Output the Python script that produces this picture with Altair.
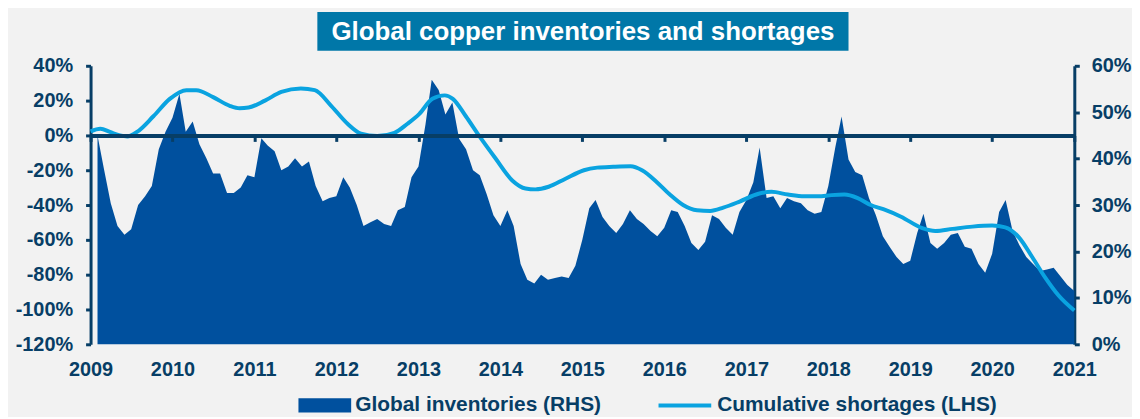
import altair as alt
import pandas as pd

AREA_NAME = "Global inventories (RHS)"
LINE_NAME = "Cumulative shortages (LHS)"
TITLE = "Global copper inventories and shortages"

NAVY = "#073E66"
AREA_COLOR = "#00509E"
LINE_COLOR = "#0AA3E0"
TEAL = "#0077A8"
BG = "#F2F2F2"
FONT = "Liberation Sans"

# Monthly global inventories (RHS, %), Feb 2009 .. Jan 2021
inventory_months = pd.date_range("2009-02-01", periods=144, freq="MS").strftime("%Y-%m-%d").tolist()
inventory_rhs = [
    45.0, 37.9, 30.4, 25.5, 23.6, 24.8, 30.0, 31.9, 34.1, 42.0, 45.8, 48.8,
    54.0, 45.8, 48.0, 43.1, 40.1, 36.8, 36.8, 32.6, 32.6, 33.8, 36.4, 36.0,
    44.4, 42.8, 41.6, 37.5, 38.3, 40.1, 38.3, 39.4, 34.1, 30.8, 31.5, 31.9,
    36.0, 33.8, 30.0, 25.5, 26.3, 27.0, 25.9, 25.5, 28.9, 29.6, 36.0, 38.3,
    47.3, 57.0, 54.8, 49.5, 52.1, 44.3, 42.0, 37.5, 36.4, 32.3, 27.8, 25.5,
    28.9, 25.5, 17.3, 13.9, 13.1, 15.0, 13.9, 14.3, 14.6, 14.3, 16.9, 22.5,
    29.3, 31.1, 27.4, 25.5, 24.0, 25.9, 28.9, 27.0, 25.9, 24.4, 23.3, 25.1,
    28.9, 28.5, 25.5, 21.8, 20.3, 22.1, 27.8, 27.0, 25.1, 23.6, 28.5, 31.1,
    34.9, 42.4, 31.5, 31.9, 29.3, 31.5, 30.8, 30.4, 28.9, 28.1, 28.5, 34.1,
    42.4, 49.1, 39.8, 37.1, 36.4, 31.5, 27.8, 23.3, 21.0, 18.8, 17.3, 18.0,
    24.0, 28.1, 21.8, 20.6, 21.8, 23.6, 24.0, 21.0, 20.6, 17.3, 15.4, 19.5,
    28.5, 31.1, 24.4, 21.4, 18.8, 17.3, 15.8, 16.1, 16.5, 14.6, 12.8, 11.5,
]

# Cumulative shortages (LHS, %)
shortage_dates = [
    "2009-01-01", "2009-02-14", "2009-03-28", "2009-05-12", "2009-06-14", "2009-07-27",
    "2009-10-08", "2009-12-20", "2010-03-04", "2010-04-17", "2010-07-01", "2010-09-13",
    "2010-10-27", "2010-12-06", "2011-02-17", "2011-05-01", "2011-07-27", "2011-09-27",
    "2011-12-09", "2012-02-20", "2012-04-20", "2012-07-01", "2012-09-16", "2012-11-13",
    "2013-01-05", "2013-03-04", "2013-04-28", "2013-06-03", "2013-07-31", "2013-09-27",
    "2013-12-09", "2014-02-24", "2014-04-23", "2014-06-06", "2014-08-04", "2014-10-16",
    "2015-01-08", "2015-03-08", "2015-05-19", "2015-08-04", "2015-09-24", "2015-11-28",
    "2016-01-26", "2016-03-25", "2016-05-26", "2016-07-24", "2016-09-20", "2016-12-02",
    "2017-02-24", "2017-04-23", "2017-07-05", "2017-09-16", "2017-11-17", "2018-01-15",
    "2018-03-14", "2018-05-12", "2018-07-09", "2018-09-06", "2018-11-21", "2019-02-24",
    "2019-04-23", "2019-07-09", "2019-10-05", "2020-01-01", "2020-02-28", "2020-04-30",
    "2020-06-28", "2020-08-26", "2020-10-23", "2021-01-01",
]
shortage_lhs = [
    2.3, 3.8, 2.0, 0.0, -0.6, 2.0,
    11.0, 21.0, 26.0, 26.0, 22.0, 17.0,
    15.6, 16.0, 20.0, 25.0, 27.0, 26.0,
    17.0, 6.7, 1.0, -0.4, 1.5, 6.7,
    12.4, 21.0, 23.0, 21.0, 11.0, 0.0,
    -13.0, -26.0, -30.5, -31.0, -29.5, -25.0,
    -20.0, -18.5, -18.0, -17.7, -20.0, -26.7,
    -34.0, -40.0, -43.0, -43.4, -41.5, -38.0,
    -33.5, -32.4, -34.0, -35.0, -35.0, -34.3,
    -34.0, -36.0, -40.0, -42.5, -46.7, -53.3,
    -54.9, -53.7, -52.4, -51.8, -52.8, -58.7,
    -70.0, -82.0, -92.0, -100.6,
]

years = list(range(2009, 2022))
lhs_ticks = [-120, -100, -80, -60, -40, -20, 0, 20, 40]
rhs_ticks = [0, 10, 20, 30, 40, 50, 60]

inv_df = pd.DataFrame({"date": inventory_months, "value": inventory_rhs, "series": AREA_NAME})
short_df = pd.DataFrame({"date": shortage_dates, "value": shortage_lhs, "series": LINE_NAME})
title_df = pd.DataFrame({"title": [TITLE]})

year_values = [alt.DateTime(year=y, month=1, date=1, utc=True) for y in years]
x_scale = alt.Scale(
    type="utc",
    domain=[alt.DateTime(year=2009, month=1, date=1, utc=True),
            alt.DateTime(year=2021, month=1, date=1, utc=True)],
    nice=False,
)

legend_style = dict(
    orient="none", direction="horizontal", title=None, padding=0,
    labelFont=FONT, labelFontSize=21, labelFontWeight="bold", labelColor=NAVY,
    labelOffset=4, labelLimit=400, symbolSize=2809, symbolOpacity=1,
)
area_legend = alt.Legend(
    legendX=209, legendY=315, symbolType="M-1,-0.27H1V0.27H-1Z",
    symbolFillColor=AREA_COLOR, symbolStrokeWidth=0, **legend_style
)
line_legend = alt.Legend(
    legendX=569, legendY=313, symbolType="stroke", symbolStrokeWidth=4, **legend_style
)

label_style = dict(labelFont=FONT, labelFontSize=20, labelFontWeight="bold", labelColor=NAVY)

area = alt.Chart(inv_df).mark_area(interpolate="linear").encode(
    x=alt.X("date:T", scale=x_scale, axis=alt.Axis(
        orient="bottom", values=year_values, format="%Y", domain=False, ticks=False,
        tickSize=0, labelPadding=15, grid=False, title=None, labelFlush=False,
        labelOverlap=False, **label_style)),
    y=alt.Y("value:Q", scale=alt.Scale(domain=[0, 60], nice=False), axis=alt.Axis(
        orient="right", values=rhs_ticks, labelExpr="datum.value + '%'", grid=False,
        title=None, domainColor=NAVY, domainWidth=3, tickColor=NAVY, tickWidth=3,
        tickSize=5, labelPadding=12, **label_style)),
    fill=alt.Fill("series:N", scale=alt.Scale(domain=[AREA_NAME], range=[AREA_COLOR]),
                  legend=area_legend),
)

line = alt.Chart(short_df).mark_line(interpolate="monotone", strokeWidth=4).encode(
    x=alt.X("date:T", scale=x_scale, axis=alt.Axis(
        orient="bottom", offset=-210, values=year_values, labels=False, domain=True,
        domainColor=NAVY, domainWidth=4, ticks=True, tickColor=NAVY, tickWidth=3,
        tickSize=6, grid=False, title=None, zindex=1)),
    y=alt.Y("value:Q", scale=alt.Scale(domain=[-120, 40], nice=False), axis=alt.Axis(
        orient="left", values=lhs_ticks, labelExpr="datum.value + '%'", grid=False,
        title=None, domainColor=NAVY, domainWidth=3, tickColor=NAVY, tickWidth=3,
        tickSize=5, labelPadding=13, **label_style)),
    stroke=alt.Stroke("series:N", scale=alt.Scale(domain=[LINE_NAME], range=[LINE_COLOR]),
                      legend=line_legend),
)

title_box = alt.Chart(title_df).mark_rect(color=TEAL).encode(
    x=alt.value(228), x2=alt.value(762), y=alt.value(-54), y2=alt.value(-15)
)
title_text = alt.Chart(title_df).mark_text(
    font=FONT, fontSize=26, fontWeight="bold", color="white", align="center", baseline="middle"
).encode(text="title:N", x=alt.value(495), y=alt.value(-34))

chart = alt.layer(area, line, title_box, title_text).resolve_scale(
    y="independent"
).resolve_axis(x="independent").properties(
    width=989, height=280,
    padding={"left": 7, "top": 3, "right": 0, "bottom": 0},
    background=BG,
).configure_view(strokeWidth=0)

chart.save("out.html", embed_options={"renderer": "svg", "actions": False})
